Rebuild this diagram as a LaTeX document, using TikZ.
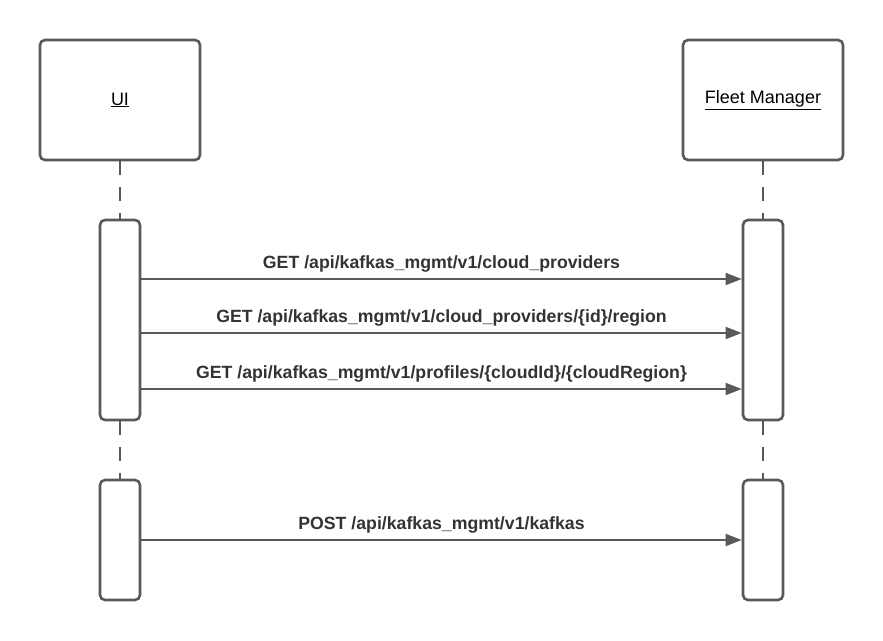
\documentclass[tikz,border=0pt]{standalone}
\usepackage{fontspec}
\setmainfont{Liberation Sans}
\usetikzlibrary{arrows.meta,positioning}
\definecolor{linegray}{HTML}{595959}
\definecolor{textgray}{HTML}{333333}
\tikzset
{
    headbox/.style = {draw=linegray, line width=2.6pt, rounded corners=5pt, fill=white, align=center, minimum width=160pt, minimum height=120pt, text=black, font=\fontsize{18}{21}\selectfont},
    actbar/.style  = {draw=linegray, line width=2.6pt, rounded corners=5pt, fill=white, minimum width=40pt},
    lifeline/.style = {draw=linegray, line width=2pt, dash pattern=on 14pt off 12pt},
    msg/.style     = {draw=linegray, line width=1.6pt, -{Triangle[length=16pt,width=12pt]}},
    msglabel/.style = {midway, above, inner sep=0pt, yshift=6pt, text=textgray, font=\bfseries\fontsize{17.7}{21}\selectfont}
}
\begin{document}
\begin{tikzpicture}[x=1pt, y=-1pt]
    \useasboundingbox (0,0) rectangle (883,640);
    \node [headbox] (ui) at (120,100) {\underline{UI}};
    \node [headbox] (fm) at (763,100) {\underline{Fleet Manager}};
    \node [actbar, minimum height=200pt] (uiact1) at (120,320) {};
    \node [actbar, minimum height=120pt] (uiact2) at (120,540) {};
    \node [actbar, minimum height=200pt] (fmact1) at (763,320) {};
    \node [actbar, minimum height=120pt] (fmact2) at (763,540) {};
    % lifelines
    \draw [lifeline] (ui.south) -- (uiact1.north);
    \draw [lifeline] (uiact1.south) -- (uiact2.north);
    \draw [lifeline] (fm.south) -- (fmact1.north);
    \draw [lifeline] (fmact1.south) -- (fmact2.north);
    % messages
    \draw [msg] ([yshift=41pt]uiact1.east) -- node [msglabel] {GET /api/kafkas\_mgmt/v1/cloud\_providers} ([yshift=41pt]fmact1.west);
    \draw [msg] ([yshift=-13pt]uiact1.east) -- node [msglabel] {GET /api/kafkas\_mgmt/v1/cloud\_providers/\{id\}/region} ([yshift=-13pt]fmact1.west);
    \draw [msg] ([yshift=-69pt]uiact1.east) -- node [msglabel] {GET /api/kafkas\_mgmt/v1/profiles/\{cloudId\}/\{cloudRegion\}} ([yshift=-69pt]fmact1.west);
    \draw [msg] (uiact2.east) -- node [msglabel] {POST /api/kafkas\_mgmt/v1/kafkas} (fmact2.west);
\end{tikzpicture}
\end{document}
